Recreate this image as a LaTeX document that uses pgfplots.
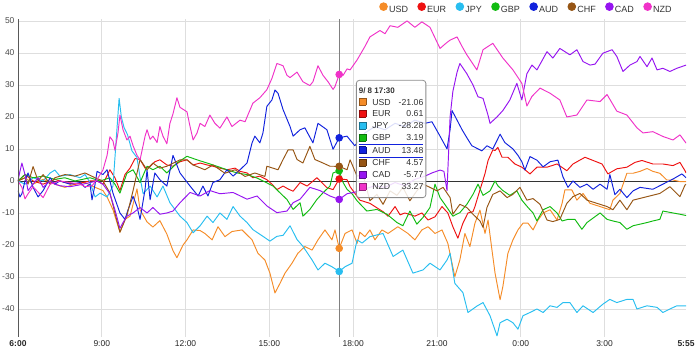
\documentclass[border=0pt]{standalone}
\usepackage{fontspec}
\setmainfont{Liberation Sans}
\usepackage{pgfplots}
\pgfplotsset{compat=1.18}
\definecolor{usdc}{RGB}{245,140,40}
\definecolor{eurc}{RGB}{238,17,17}
\definecolor{jpyc}{RGB}{40,190,240}
\definecolor{gbpc}{RGB}{17,187,17}
\definecolor{audc}{RGB}{17,34,221}
\definecolor{chfc}{RGB}{150,85,20}
\definecolor{cadc}{RGB}{150,20,240}
\definecolor{nzdc}{RGB}{240,50,200}
\newcommand\tipsq[1]{{\setlength\fboxsep{0pt}\setlength\fboxrule{0.5bp}\fcolorbox{#1!60!black}{#1}{\rule{0pt}{6.5bp}\rule{6.5bp}{0pt}}}\hspace{6bp}}
\newcommand\tiprow[3]{\tipsq{#1}\makebox[20bp][l]{#2}\makebox[31bp][r]{#3}}
\begin{document}
\begin{tikzpicture}
\begin{axis}[name=ax, scale only axis, width=668bp, height=318bp,
 xmin=0, xmax=23.9167, ymin=-48.75, ymax=50.6,
 axis line style={draw=none},
 xtick={3,6,9,12,15,18,21}, xticklabels={9:00,12:00,15:00,18:00,21:00,0:00,3:00},
 extra x ticks={0,23.9167}, extra x tick labels={\textbf{6:00},\textbf{5:55}},
 extra x tick style={grid=none},
 ytick={-40,-30,...,50}, yticklabels={-40,-30,-20,-10,0,10,20,30,40,50},
 grid=major, major grid style={draw=black!13, line width=0.8bp},
 tick style={draw=none},
 x tick label style={font=\fontsize{8.5bp}{10bp}\selectfont, text=black!85},
 y tick label style={font=\fontsize{8.5bp}{10bp}\selectfont, text=black!70},
 legend columns=8,
 legend style={at={(0.9805,1.033)}, anchor=east, draw=none, fill=none, inner sep=0pt,
   font=\fontsize{9bp}{10bp}\selectfont, text=black!80,
   /tikz/every even column/.append style={column sep=8.2bp},
   nodes={inner xsep=1.2bp, inner ysep=1bp}},
 legend image code/.code={\fill[#1] (0bp,3.1bp) circle (3.8bp);},
 every axis plot/.append style={line width=0.95bp, line join=round},
]
\addplot[black!80, line width=0.9bp, forget plot] coordinates {(0,0) (23.9167,0)};
\addplot[black!50, line width=0.9bp, forget plot] coordinates {(11.5,-48.75) (11.5,50.6)};

% USD
\addplot[usdc] coordinates {(0,0) (0.25,1) (0.54,-1) (0.9,0.5) (1.32,-1) (1.68,-2) (2.04,-1) (2.4,-0.5) (2.76,-2) (3.04,-3) (3.19,-5) (3.4,-9) (3.65,-16) (3.83,-12) (4.01,-11) (4.26,-2.5) (4.37,-9) (4.62,-12.8) (4.83,-14.4) (5.08,-12.4) (5.33,-16.6) (5.55,-21.8) (5.69,-24) (5.91,-20) (6.05,-18.4) (6.27,-15.3) (6.52,-15.5) (6.69,-16.4) (6.95,-18.4) (7.16,-14.3) (7.41,-17.4) (7.66,-15.8) (8.02,-15.3) (8.38,-18.4) (8.59,-22.6) (8.84,-24.7) (9.02,-28.8) (9.2,-35) (9.38,-32) (9.56,-28.8) (9.81,-25.7) (10.02,-22.6) (10.27,-20.5) (10.53,-21.6) (10.74,-18.4) (10.99,-15.3) (11.24,-18.4) (11.35,-15.3) (11.5,-21.06) (11.71,-16.4) (11.96,-15.3) (12.14,-19.5) (12.24,-16) (12.42,-17.4) (12.6,-15.3) (12.78,-18.4) (13.03,-15.3) (13.25,-16.4) (13.6,-14.3) (13.96,-16.4) (14.21,-18.4) (14.46,-15.3) (14.68,-14.3) (14.93,-16.4) (15.18,-15.3) (15.39,-19.5) (15.64,-29.9) (15.82,-24.7) (16.0,-16.4) (16.18,-20.5) (16.36,-13.2) (16.54,-9.1) (16.72,-16.4) (16.83,-12.2) (16.97,-21.6) (17.08,-28.8) (17.26,-37.1) (17.36,-33) (17.54,-22.6) (17.72,-18.4) (17.9,-15.3) (18.08,-13.2) (18.26,-13.2) (18.44,-15.3) (18.62,-12.2) (18.8,-10) (19.05,-9) (19.3,-12.2) (19.48,-7) (19.58,-2.8) (19.83,-2.8) (20.01,-6) (20.23,-3.9) (20.48,-7) (20.84,-8) (21.19,-9) (21.3,-6) (21.55,-3.9) (21.8,2.4) (22.02,2.4) (22.27,3) (22.52,3.9) (22.73,3) (22.98,2.4) (23.23,0.3) (23.45,0.3) (23.7,-0.2) (23.92,-0.2)};
\addlegendentry{USD}
% EUR
\addplot[eurc] coordinates {(0,0) (0.25,2) (0.54,0) (0.9,-1) (1.32,0.5) (1.68,-0.5) (2.04,-1) (2.58,0) (2.83,0) (3.04,-1) (3.29,3.5) (3.47,1) (3.65,-3) (3.83,2) (4.01,4) (4.19,7) (4.37,6.7) (4.55,4) (4.73,4.6) (4.9,6) (5.08,6.6) (5.33,5) (5.55,4.6) (5.8,6) (6.05,6.6) (6.27,5) (6.52,5.6) (6.77,5) (6.98,4.6) (7.23,4) (7.48,3.5) (7.77,4) (7.95,3) (8.2,2.5) (8.41,1) (8.66,1.5) (8.91,0.4) (9.09,-1) (9.27,-2.7) (9.49,-1.6) (9.67,-2.5) (9.85,-3.2) (10.1,-0.5) (10.35,-1.6) (10.7,1) (10.88,-0.5) (11.06,-2.1) (11.28,-2.7) (11.5,0.61) (11.78,0.4) (11.89,-1.8) (12.24,-6) (12.6,-7) (12.96,-9) (13.07,-9.6) (13.25,-11) (13.5,-8) (13.68,-10.6) (13.85,-10) (14.21,-11) (14.46,-10) (14.68,-12.2) (14.93,-11.2) (15.18,-8) (15.39,-10) (15.57,-14.3) (15.75,-17.9) (15.93,-13.2) (16.11,-10) (16.29,-9.6) (16.36,-8) (16.54,-2.8) (16.72,2.3) (16.83,6.4) (17.0,9.7) (17.08,9.5) (17.18,10.5) (17.33,7.4) (17.54,7.4) (17.79,5.3) (18.04,4.3) (18.33,2.2) (18.58,4.3) (18.94,4.3) (19.3,5.3) (19.65,3.2) (19.87,5.3) (20.3,7.4) (20.59,6.4) (20.91,5.3) (21.12,2.2) (21.44,3.8) (21.8,4.3) (22.09,5.8) (22.34,6.4) (22.73,5.3) (23.09,5.3) (23.45,4.8) (23.7,5.8) (23.88,3.2) (23.92,2.5)};
\addlegendentry{EUR}
% JPY
\addplot[jpyc] coordinates {(0,0) (0.25,-1) (0.54,1) (0.9,0) (1.15,2.5) (1.32,3.4) (1.5,1.5) (1.86,2) (2.22,1) (2.4,2) (2.58,-0.5) (2.76,-5) (2.94,-3.8) (3.19,-5) (3.4,-1.6) (3.62,25.8) (3.7,20) (3.8,16.6) (3.92,14.5) (4.08,9.4) (4.26,7.3) (4.37,1.1) (4.48,-4) (4.73,-1.6) (4.98,-5) (5.19,-1.6) (5.44,-6.8) (5.8,-11) (6.05,-13) (6.27,-16.2) (6.52,-14) (6.77,-11) (6.98,-13) (7.23,-10) (7.48,-12) (7.7,-8) (7.95,-11) (8.2,-13) (8.41,-15.2) (8.77,-17.3) (9.02,-18.8) (9.27,-17.3) (9.49,-17) (9.74,-14) (9.99,-18.3) (10.2,-20.4) (10.53,-24.7) (10.74,-27.8) (10.99,-25.7) (11.24,-26.8) (11.5,-28.28) (11.71,-26.8) (11.96,-25.7) (12.14,-18.4) (12.32,-19.4) (12.6,-17.4) (13.07,-16.4) (13.43,-23.6) (13.78,-21.6) (14.14,-28.8) (14.5,-27.8) (14.75,-25.7) (15.11,-27.8) (15.36,-24.7) (15.47,-22.6) (15.64,-32) (15.93,-34.9) (16.11,-41.1) (16.43,-39.1) (16.65,-38) (16.9,-42.1) (17.15,-48.4) (17.26,-44.3) (17.51,-43.2) (17.72,-44.3) (17.9,-46.3) (18.08,-42.1) (18.33,-41.1) (18.58,-40) (18.8,-41.1) (19.05,-39) (19.3,-39.5) (19.51,-38) (19.76,-38) (20.01,-41.1) (20.23,-39) (20.59,-41.1) (20.94,-38.5) (21.19,-37) (21.44,-38) (21.8,-37) (22.02,-37) (22.16,-40) (22.52,-39) (22.88,-39.5) (23.09,-41.1) (23.34,-40) (23.59,-39) (23.92,-39)};
\addlegendentry{JPY}
% GBP
\addplot[gbpc] coordinates {(0,0) (0.25,2) (0.54,1) (0.9,1.5) (1.32,0.5) (1.68,1) (2.04,0) (2.58,1) (2.94,0) (3.29,1) (3.47,-1) (3.65,-3.8) (3.9,2.4) (4.12,3.5) (4.37,-0.5) (4.62,4.6) (4.83,3.5) (5.08,4.6) (5.33,2.5) (5.69,5.6) (6.05,7.7) (6.41,6.6) (6.77,5.6) (7.12,4.6) (7.48,3.5) (7.84,2.5) (8.2,2) (8.56,0.9) (8.91,-0.6) (9.13,-1.6) (9.38,-3.7) (9.63,-5.8) (9.85,-8.9) (10.1,-6.8) (10.2,-11) (10.45,-8.9) (10.7,-5.8) (10.92,-3.7) (11.17,-1.6) (11.28,2.5) (11.5,3.19) (11.64,-0.5) (11.78,-2.6) (11.96,-4) (12.14,-6.2) (12.49,-9.4) (12.85,-8.9) (13.21,-10.4) (13.57,-13) (13.78,-14) (14.03,-9.4) (14.28,-13.5) (14.5,-11.4) (14.75,-8.3) (14.93,-1) (15.11,-5.2) (15.36,-8.3) (15.57,-11) (15.82,-9.9) (16.07,-7.3) (16.29,-4.2) (16.47,-1) (16.65,-4.5) (16.9,-3.1) (17.08,0) (17.18,-1.5) (17.36,-3) (17.61,-4.5) (17.86,-3.1) (18.04,-6) (18.26,-8.3) (18.44,-10) (18.58,-12.5) (18.8,-9) (19.05,-8) (19.3,-10) (19.48,-12.5) (19.69,-12) (19.94,-12) (20.19,-15.1) (20.37,-13) (20.59,-11.6) (20.84,-10) (21.09,-12) (21.3,-12.5) (21.55,-13) (21.8,-15.1) (22.02,-14) (22.27,-13.5) (22.52,-13) (22.73,-12.5) (22.98,-12) (23.09,-9.4) (23.45,-10) (23.7,-10.4) (23.92,-10.8)};
\addlegendentry{GBP}
% AUD
\addplot[audc] coordinates {(0,-3) (0.07,-5) (0.14,-4) (0.25,0) (0.36,2.5) (0.54,-2) (0.72,-5) (0.9,-3) (1.15,1) (1.32,-1) (1.5,0) (1.86,-1) (2.22,-0.5) (2.4,-2) (2.58,-1) (2.65,-5.9) (2.76,-1) (2.83,3) (3.04,2) (3.19,3.5) (3.4,-3.8) (3.65,-10) (3.83,-12) (3.94,-9) (4.12,-4.8) (4.26,-8) (4.37,-12) (4.55,-2.6) (4.62,3.5) (4.73,-5.9) (4.9,2.5) (5.08,0.4) (5.33,-1.6) (5.55,8) (5.8,2.5) (6.16,-1.6) (6.45,-4.7) (6.62,-1.6) (6.8,-4.7) (6.98,-0.5) (7.23,0.4) (7.48,3.5) (7.7,1.5) (7.95,3.5) (8.2,5.6) (8.38,11.9) (8.48,14) (8.66,11.9) (8.77,15) (8.91,23.3) (9.09,25.3) (9.2,28.4) (9.31,27.4) (9.49,22.3) (9.74,17) (9.85,14) (10.1,16) (10.27,16.6) (10.56,11.9) (10.74,18) (11.06,16) (11.28,9.9) (11.5,13.48) (11.78,14) (11.89,12.8) (12.06,11) (12.24,13) (12.42,15) (12.78,17) (13.14,16) (13.5,18) (13.85,17) (14.21,19) (14.57,18) (14.82,18.5) (15.11,14) (15.36,10) (15.47,16) (15.54,22) (15.72,19) (15.9,16) (16.07,13.5) (16.25,11) (16.61,9.4) (16.79,11) (17.0,10) (17.26,14.6) (17.43,12) (17.72,10) (17.9,8) (18.04,6) (18.15,3.4) (18.33,7.6) (18.58,6.5) (18.8,4.4) (19.05,6) (19.33,6.5) (19.51,1.3) (19.69,-2) (19.87,0) (20.12,-2) (20.37,-1) (20.59,-2.6) (20.84,-1) (21.09,-2.6) (21.19,2) (21.37,-4.3) (21.55,-2.6) (21.8,-5.2) (22.02,-3.1) (22.27,-2) (22.73,-2.6) (23.09,-1) (23.45,0.6) (23.77,2.2) (23.92,1)};
\addlegendentry{AUD}
% CHF
\addplot[chfc] coordinates {(0,0) (0.25,1) (0.36,-1) (0.54,4.5) (0.72,0) (0.9,2) (1.15,-1) (1.32,1) (1.68,2) (2.04,1.5) (2.4,2.5) (2.76,1) (3.04,0) (3.29,-3.7) (3.47,-10) (3.65,-16) (3.9,-10.8) (4.12,-3) (4.37,6.7) (4.62,3.5) (4.83,5.6) (5.08,4) (5.33,4.6) (5.8,6.6) (6.05,6.6) (6.27,5) (6.69,3.5) (6.98,5) (7.41,2.4) (7.77,3.5) (8.13,1.4) (8.48,2.5) (8.84,1.4) (8.91,4.6) (9.31,3.5) (9.49,6.7) (9.67,9.7) (9.85,9.7) (9.99,6.7) (10.2,5.6) (10.45,10.8) (10.63,6.7) (10.92,5.6) (11.17,4.6) (11.5,4.57) (11.78,3.5) (11.89,6.6) (12.14,1.5) (12.35,2) (12.6,-6.2) (12.85,-4.2) (13.07,-7.3) (13.32,-3.1) (13.57,-4.5) (13.78,-2) (14.03,-6.2) (14.28,-3.1) (14.5,-1) (14.75,-2) (15.0,-3.1) (15.22,-2) (15.47,-5.2) (15.57,-10.4) (15.82,-7.3) (16.07,-8.3) (16.29,-10.4) (16.54,-12.5) (16.65,-14.5) (16.79,-8.3) (17.0,-4.2) (17.26,-3.1) (17.51,-5.2) (17.72,-4.2) (17.97,-2) (18.22,-6) (18.44,-5.5) (18.69,-7.3) (18.94,-12.2) (19.15,-12.7) (19.4,-12) (19.65,-7) (19.87,-4.9) (20.12,-3.9) (20.37,-6) (20.73,-7) (21.09,-8) (21.3,-9) (21.55,-6) (21.8,-9) (22.02,-6) (22.52,-4.9) (22.98,-3.9) (23.34,-1.8) (23.7,-4.9) (23.88,-1.3) (23.92,-1)};
\addlegendentry{CHF}
% CAD
\addplot[cadc] coordinates {(0,0) (0.07,3) (0.14,5.6) (0.25,2) (0.36,-3) (0.54,-1) (0.72,1) (0.9,-2) (1.15,0) (1.32,-1) (1.5,-1.5) (1.86,-1.8) (2.22,-1.2) (2.58,-0.5) (2.83,0) (3.04,-1) (3.29,-4) (3.47,-9) (3.65,-14.8) (3.76,-13) (3.9,-11) (4.12,-10) (4.37,-8.3) (4.62,-10) (4.83,-8.3) (5.08,-10.4) (5.33,-10) (5.55,-9.4) (5.8,-6.8) (6.16,-3.6) (6.52,-4.7) (6.87,-3) (7.23,-4) (7.7,-3.6) (8.2,-5.7) (8.56,-4.7) (8.91,-7.8) (9.27,-9.9) (9.63,-9.4) (9.85,-6.8) (10.1,-5.7) (10.45,-2) (10.81,-3) (11.17,-4.7) (11.5,-5.77) (11.78,-4) (12.06,-3.5) (12.42,-2.5) (12.78,-1.5) (13.14,-2) (13.5,-0.5) (13.85,-1.5) (14.21,0.5) (14.57,1.5) (14.82,2.5) (15.11,3.4) (15.25,3) (15.36,-3) (15.47,20) (15.57,28) (15.72,34) (15.82,36.7) (16.07,33.5) (16.29,30) (16.47,26.3) (16.65,25.8) (16.83,20.5) (16.9,18) (17.15,20) (17.36,22) (17.61,25.3) (17.86,30.5) (18.04,25.3) (18.22,33.5) (18.4,36.2) (18.58,34.7) (18.94,40.4) (19.15,38.4) (19.4,41.4) (19.76,39.4) (20.01,41) (20.23,37.3) (20.48,36.2) (20.66,36.5) (20.94,39.9) (21.27,41) (21.44,38.9) (21.66,34.2) (21.91,36.2) (22.16,37.3) (22.27,38.9) (22.52,35.7) (22.7,38.4) (22.88,34.7) (23.09,35.2) (23.34,34.2) (23.59,35.2) (23.92,36.2)};
\addlegendentry{CAD}
% NZD
\addplot[nzdc] coordinates {(0,0) (0.14,-2) (0.25,-5.6) (0.36,-4) (0.54,-1.8) (0.72,-3.5) (0.9,-5.2) (1.15,-1) (1.5,0) (1.86,-0.5) (2.22,-1) (2.4,-1.8) (2.65,-1.5) (2.83,0.5) (2.94,2) (3.04,3.4) (3.19,8) (3.29,13.8) (3.4,12.5) (3.47,9.6) (3.58,15) (3.65,20.6) (3.76,16) (3.9,12.8) (4.01,14) (4.12,11) (4.26,8) (4.37,6.6) (4.55,14) (4.62,16) (4.73,13) (4.83,14) (4.98,12) (5.08,17) (5.19,14) (5.33,11.6) (5.44,18) (5.55,21) (5.69,26) (5.8,23) (6.05,21.6) (6.16,17) (6.27,12.8) (6.41,15) (6.52,18) (6.69,17) (6.87,20.6) (7.05,18) (7.23,16.5) (7.41,19) (7.48,20) (7.66,17) (7.95,19) (8.13,18.5) (8.23,20.6) (8.41,24.3) (8.66,26) (8.91,28.5) (9.09,32) (9.27,36.7) (9.49,36) (9.63,33) (9.74,32.3) (9.99,34) (10.2,31) (10.45,29.8) (10.56,31) (10.74,36) (10.92,33) (11.1,31) (11.28,28.6) (11.35,29.5) (11.5,33.27) (11.64,33) (11.78,35) (11.89,34.7) (12.14,37.8) (12.42,42) (12.6,45) (12.96,47) (13.14,46) (13.32,48.5) (13.6,48) (13.93,50) (14.21,48) (14.46,49.7) (14.75,48) (15.11,41.4) (15.32,43) (15.47,44) (15.72,45) (15.9,42) (16.07,39.4) (16.43,34.7) (16.65,41) (17.0,43) (17.36,38.4) (17.72,34.7) (18.04,30.5) (18.22,23.4) (18.4,26.4) (18.69,29) (19.05,27.4) (19.4,25.3) (19.65,20) (20.01,20.6) (20.37,25.3) (20.84,24.8) (21.09,27) (21.44,21.8) (21.8,20.6) (22.16,16.6) (22.38,15) (22.73,15.4) (23.09,13.9) (23.45,12.8) (23.7,14.4) (23.92,11.8)};
\addlegendentry{NZD}

% markers at 17:30
\addplot[usdc, only marks, mark=*, mark size=3.3bp, forget plot] coordinates {(11.5,-21.06)};
\addplot[eurc, only marks, mark=*, mark size=3.3bp, forget plot] coordinates {(11.5,0.61)};
\addplot[jpyc, only marks, mark=*, mark size=3.3bp, forget plot] coordinates {(11.5,-28.28)};
\addplot[gbpc, only marks, mark=*, mark size=3.3bp, forget plot] coordinates {(11.5,3.19)};
\addplot[audc, only marks, mark=*, mark size=3.3bp, forget plot] coordinates {(11.5,13.48)};
\addplot[chfc, only marks, mark=*, mark size=3.3bp, forget plot] coordinates {(11.5,4.57)};
\addplot[cadc, only marks, mark=*, mark size=3.3bp, forget plot] coordinates {(11.5,-5.77)};
\addplot[nzdc, only marks, mark=*, mark size=3.3bp, forget plot] coordinates {(11.5,33.27)};

\draw[black!65, line width=0.9bp] (rel axis cs:0,0) -- (rel axis cs:0,1);

\node[draw=black!45, line width=0.8bp, rounded corners=3bp, fill=white, fill opacity=0.85, text opacity=1, anchor=north west, inner xsep=2.5bp, inner ysep=4.5bp, text=black!80] at (axis cs:12.1,31.56) {\fontsize{8.7bp}{11.9bp}\selectfont
\begin{tabular}{@{}l@{}}
{\fontsize{8bp}{11.9bp}\selectfont\bfseries 9/ 8 17:30}\\
\tiprow{usdc}{USD}{-21.06}\\
\tiprow{eurc}{EUR}{0.61}\\
\tiprow{jpyc}{JPY}{-28.28}\\
\tiprow{gbpc}{GBP}{3.19}\\
\noalign{{\color{audc}\hrule height 0.6bp}}
\tiprow{audc}{AUD}{13.48}\\
\noalign{{\color{audc}\hrule height 0.6bp}}
\tiprow{chfc}{CHF}{4.57}\\
\tiprow{cadc}{CAD}{-5.77}\\
\tiprow{nzdc}{NZD}{33.27}
\end{tabular}};
\end{axis}
\pgfresetboundingbox
\path[use as bounding box] ([xshift=-18bp,yshift=-19bp]ax.south west) rectangle ([xshift=14bp,yshift=19bp]ax.north east);
\end{tikzpicture}
\end{document}
